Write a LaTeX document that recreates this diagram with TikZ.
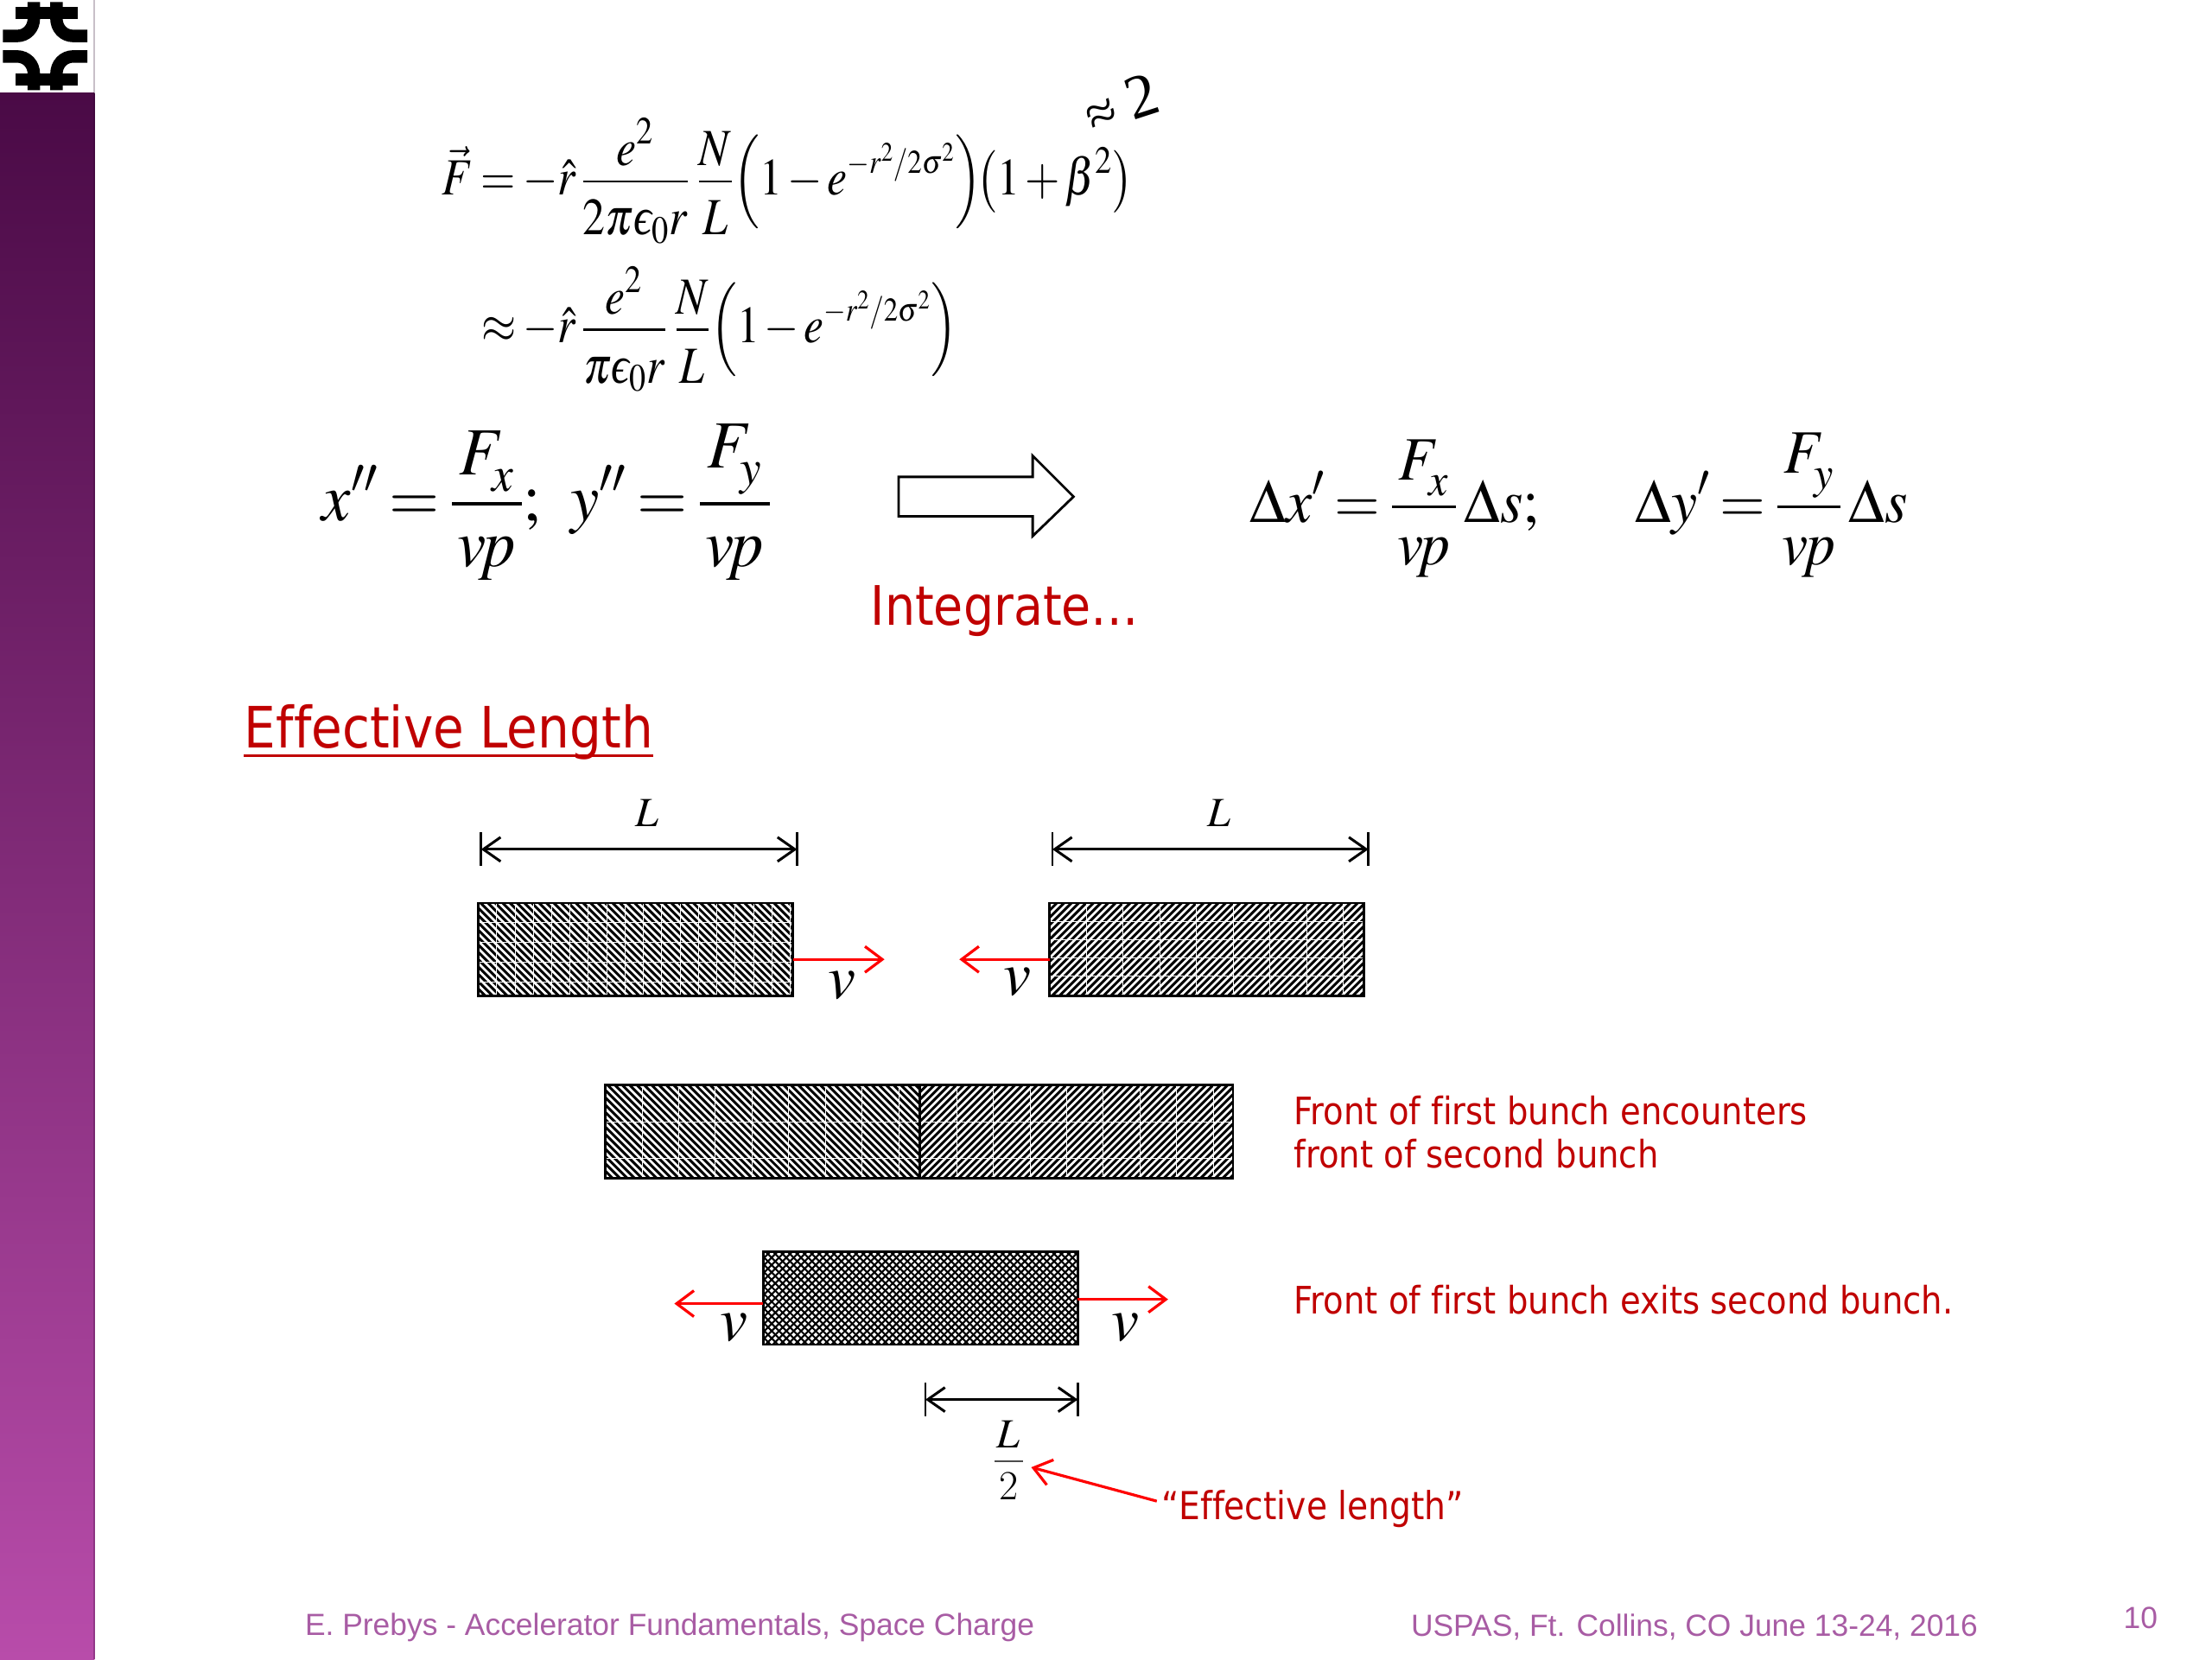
\documentclass[tikz,border=0pt]{standalone}
\usepackage{mathptmx}
\usepackage{fontspec}
\usepackage{amsmath}
\usepackage{graphicx}
\newfontfamily\tahomaish[FakeStretch=0.88,Ligatures=CommonOff]{DejaVu Sans}
\newfontfamily\footfont{Liberation Sans}
\newfontfamily\serifit{Liberation Serif}
\newcommand{\lunate}{\mbox{\serifit\itshape ϵ}}
\newcommand{\tnum}[1]{\raisebox{-3.5pt}[\height][0pt]{$\displaystyle #1$}}
\newcommand{\tden}[1]{\raisebox{-2.5pt}[\height][\depth]{$\displaystyle #1$}}
\newcommand{\expo}{\scalebox{.86}{$\scriptstyle -r^{2}/2\sigma^{2}$}}
\newcommand{\lowsub}[1]{_{\lower 3.5pt\hbox{$\scriptstyle #1$}}}
\usetikzlibrary{arrows.meta}
\definecolor{slidered}{HTML}{C00000}
\definecolor{arrowred}{HTML}{FF0000}
\definecolor{footpurple}{HTML}{A85CA4}
% #1..#4 box, #5 kind, #6 grid cell width, #7 grid cell height
\newcommand{\hatchbox}[7]{%
  \begin{scope}
    \clip (#1,#2) rectangle (#3,#4);
    \fill[white] (#1,#2) rectangle (#3,#4);
    \pgfmathsetmacro{\hh}{#4-#2}
    \pgfmathtruncatemacro{\nn}{(#3-#1+\hh)/5.2+1}
    \foreach \k in {0,...,\nn}{%
      \pgfmathsetmacro{\xa}{#1-\hh+\k*5.2}
      \pgfmathsetmacro{\xb}{\xa+\hh}
      \ifnum#5=1 \draw[hatchline] (\xa,#2) -- (\xb,#4);\fi
      \ifnum#5=2 \draw[hatchline] (\xb,#2) -- (\xa,#4);\fi
      \ifnum#5=3 \draw[crossline] (\xa,#2) -- (\xb,#4); \draw[crossline] (\xb,#2) -- (\xa,#4);\fi
    }
    \pgfmathtruncatemacro{\gx}{(#3-#1)/#6}
    \foreach \k in {1,...,\gx}{\pgfmathsetmacro{\xa}{#1+\k*#6}\draw[gridline] (\xa,#2) -- (\xa,#4);}
    \pgfmathtruncatemacro{\gy}{(#4-#2)/#7}
    \foreach \k in {1,...,\gy}{\pgfmathsetmacro{\ya}{#2+\k*#7}\draw[gridline] (#1,\ya) -- (#3,\ya);}
  \end{scope}
  \draw[boxedge] (#1,#2) rectangle (#3,#4);
}
\thickmuskip=3mu
\medmuskip=2mu
\tikzset{
  x=0.81633pt,y=-0.81633pt,
  hatchline/.style={black,line width=1.5pt},
  crossline/.style={black,line width=1.05pt},
  gridline/.style={white,line width=.35pt},
  boxedge/.style={black,line width=1.4pt},
  dimline/.style={black,line width=1.5pt,{Straight Barb[length=10pt,width=14pt]}-{Straight Barb[length=10pt,width=14pt]}},
  dimtick/.style={black,line width=1.3pt},
  vel/.style={arrowred,line width=1.6pt,-{Straight Barb[length=10pt,width=15pt]}},
  logostroke/.style={black,line width=7.2pt},
  slidetext/.style={inner sep=0pt,anchor=base west,text=slidered,font=\tahomaish\fontsize{21.9}{26}\selectfont},
  headtext/.style={inner sep=0pt,anchor=base west,text=slidered,font=\tahomaish\fontsize{33}{38}\selectfont},
  foot/.style={inner sep=0pt,anchor=base west,text=footpurple,font=\footfont\fontsize{17.7}{22}\selectfont},
  eq/.style={inner sep=0pt,anchor=base west},
  dimlabel/.style={inner sep=0pt,anchor=base,font=\fontsize{24}{28}\selectfont},
  vlabel/.style={inner sep=0pt,anchor=base,font=\fontsize{36}{40}\selectfont},
}
\begin{document}
\begin{tikzpicture}
\useasboundingbox (0,0) rectangle (1568,1176);
\fill[white] (0,0) rectangle (1568,1176);
% sidebar
\shade[top color={rgb,255:red,74;green,10;blue,70},bottom color={rgb,255:red,184;green,76;blue,170}] (0,66) rectangle (67,1176);
\fill[black!70!violet,opacity=.25] (66,0) rectangle (67.5,1176);
\fill[white] (0,0) rectangle (64,65.5);
% logo
\foreach \m/\d in {0/1,65.5/-1}{
 \begin{scope}[shift={(0,\m)},yscale=\d]
  \draw[logostroke] (11,9.3) -- (55,9.3);
  \draw[logostroke] (2,25.5) -- (12,25.5) .. controls (19,25.5) and (24,20) .. (24,13) -- (24,1.5);
  \draw[logostroke] (40,1.5) -- (40,13) .. controls (40,20) and (45,25.5) .. (52,25.5) -- (62,25.5);
 \end{scope}
}
% handwritten
\node[rotate=25,inner sep=0pt] (approxmark) at (782,83) {\serifit\fontsize{32}{34}\selectfont ≈};
\node[rotate=18,inner sep=0pt] (twomark) at (809,68) {\serifit\fontsize{36}{38}\selectfont 2};
% equations
\node[eq] (eqa) at (313,138) {\fontsize{29}{34}\selectfont\scalebox{.895}[1.04]{$\displaystyle \vec{F}=-\hat{r}\,\frac{\tnum{e^{2}}}{\tden{2\pi\lunate_{0}r}}\;\frac{\tnum{N}}{\tden{L}}\!\left(1-e^{\expo}\right)\!\!\left(1+\beta^{2}\right)$}};
\node[eq] (eqb) at (341,243) {\fontsize{29}{34}\selectfont\scalebox{.89}[1.04]{$\displaystyle \approx-\hat{r}\,\frac{\tnum{e^{2}}}{\tden{\pi\lunate_{0}r}}\;\frac{\tnum{N}}{\tden{L}}\!\left(1-e^{\expo}\right)$}};
\node[eq] (eqc) at (228,369) {\fontsize{39}{44}\selectfont\scalebox{.96}[1]{$\displaystyle x''=\frac{\,F\lowsub{x}\,}{v\!p};\;\; y''=\frac{\,F\lowsub{y}\,}{v\!p}$}};
\node[eq] (eqd) at (886,370) {\fontsize{35}{40}\selectfont\scalebox{.97}[1.02]{$\displaystyle \Delta x'=\frac{\,F\lowsub{x}\,}{v\!p}\,\Delta s;$}};
\node[eq] (eqe) at (1159,370) {\fontsize{35}{40}\selectfont\scalebox{.97}[1.02]{$\displaystyle \Delta y'=\frac{\,F\lowsub{y}\,}{v\!p}\,\Delta s$}};
% hollow arrow
\draw[black,line width=1.4pt] (637,338) -- (732,338) -- (732,323) -- (761,352) -- (732,380) -- (732,366) -- (637,366) -- cycle;
\node[headtext,font=\tahomaish\fontsize{31.5}{38}\selectfont] (integ) at (617,443) {Integrate…};
\node[headtext] (efflen) at (173,530) {Effective Length};
\draw[slidered,line width=1.6pt] ([yshift=-4.5pt]efflen.base west) -- ([yshift=-4.5pt]efflen.base east);
% boxes
\hatchbox{339}{640}{562}{706}{1}{13}{14}
\hatchbox{744}{640}{967}{706}{2}{26}{13}
\hatchbox{429}{769}{652}{835}{1}{26}{26}
\hatchbox{652}{769}{874}{835}{2}{26}{26}
\hatchbox{541}{887}{764}{953}{3}{300}{300}
% dimensions
\coordinate (da1) at (341,602); \coordinate (da2) at (565,602);
\coordinate (db1) at (746,602); \coordinate (db2) at (970,602);
\coordinate (dc1) at (656,992); \coordinate (dc2) at (764,992);
\foreach \p in {da1,da2,db1,db2,dc1,dc2}{\draw[dimtick] ([yshift=12*0.81633pt]\p) -- ([yshift=-12*0.81633pt]\p);}
\draw[dimline] (da1) -- (da2);
\draw[dimline] (db1) -- (db2);
\draw[dimline] (dc1) -- (dc2);
\node[dimlabel] (la) at (459,586) {$L$};
\node[dimlabel] (lb) at (864,586) {$L$};
\node[dimlabel] (lc) at (715,1026) {$L$};
\coordinate (fa) at (705,1036); \coordinate (fb) at (725,1036);
\draw[black!70,line width=1pt] (fa) -- (fb);
\node[dimlabel] (ld) at (715,1063) {2};
% velocity
\coordinate (va1) at (562,680); \coordinate (va2) at (627,680);
\coordinate (vb1) at (744,680); \coordinate (vb2) at (680,680);
\coordinate (vc1) at (541,924); \coordinate (vc2) at (478,924);
\coordinate (vd1) at (764,921); \coordinate (vd2) at (828,921);
\draw[vel] (va1) -- (va2);
\draw[vel] (vb1) -- (vb2);
\draw[vel] (vc1) -- (vc2);
\draw[vel] (vd1) -- (vd2);
\node[vlabel] (v1) at (597,708) {$v$};
\node[vlabel] (v2) at (721,705) {$v$};
\node[vlabel] (v3) at (520,950) {$v$};
\node[vlabel] (v4) at (798,950) {$v$};
% labels
\node[slidetext] (ta) at (917,797) {Front of first bunch encounters};
\node[slidetext] (tb) at (917,828) {front of second bunch};
\node[slidetext] (tc) at (917,931) {Front of first bunch exits second bunch.};
\node[slidetext,font=\tahomaish\fontsize{22.3}{26}\selectfont] (td) at (823,1077) {“Effective length”};
\coordinate (eb) at (731,1040);
\draw[vel] (td.west |- 0,1064) ++(-3,0) -- (eb);
% footer
\node[foot] (fl) at (216,1159) {E. Prebys - Accelerator Fundamentals, Space Charge};
\node[foot] (fm) at (1000,1160) {USPAS, Ft. Collins, CO June 13-24, 2016};
\node[foot] (fr) at (1505,1154) {10};
\end{tikzpicture}
\end{document}
